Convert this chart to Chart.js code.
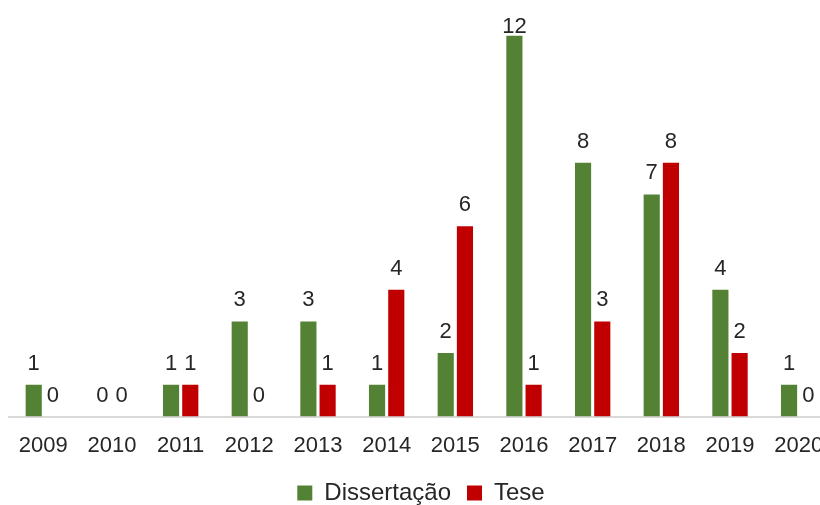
<!DOCTYPE html>
<html>
<head>
<meta charset="utf-8">
<script src="https://cdn.jsdelivr.net/npm/chart.js@4.4.1/dist/chart.umd.min.js"></script>
<style>
  html, body { margin: 0; padding: 0; background: #fff; overflow: hidden; }
  #wrap { width: 840px; height: 505px; }
</style>
</head>
<body>
<div id="wrap"><canvas id="bar-chart"></canvas></div>
<script>
// Data
var years = ["2009", "2010", "2011", "2012", "2013", "2014", "2015", "2016", "2017", "2018", "2019", "2020"];
var dissertacao = [1, 0, 1, 3, 3, 1, 2, 12, 8, 7, 4, 1];
var tese = [0, 0, 1, 0, 1, 4, 6, 1, 3, 8, 2, 0];

var textColor = "#262626";
var fontFamily = "'Liberation Sans', Arial, sans-serif";

// Draw the value above each bar
var valueLabels = {
  id: "valueLabels",
  afterDatasetsDraw: function (chart) {
    var ctx = chart.ctx;
    ctx.save();
    ctx.font = "22px " + fontFamily;
    ctx.fillStyle = textColor;
    ctx.textAlign = "center";
    ctx.textBaseline = "alphabetic";
    chart.data.datasets.forEach(function (ds, i) {
      chart.getDatasetMeta(i).data.forEach(function (bar, j) {
        var y = Math.max(bar.y - 15, 33);
        ctx.fillText(String(ds.data[j]), bar.x, y);
      });
    });
    ctx.restore();
  },
};

var canvas = document.getElementById("bar-chart");

var chart = new Chart(canvas, {
  type: "bar",
  data: {
    labels: years,
    datasets: [
      {
        label: "Dissertação",
        data: dissertacao,
        backgroundColor: "#548235",
        categoryPercentage: 0.56,
        barPercentage: 0.84,
      },
      {
        label: "Tese",
        data: tese,
        backgroundColor: "#c00000",
        categoryPercentage: 0.56,
        barPercentage: 0.84,
      },
    ],
  },
  options: {
    responsive: true,
    maintainAspectRatio: false,
    animation: false,
    layout: {
      padding: { top: 4, left: 9, right: 7, bottom: -10 },
    },
    plugins: {
      legend: {
        position: "bottom",
        labels: {
          color: textColor,
          font: { size: 24, family: fontFamily },
          boxWidth: 15,
          boxHeight: 15,
          padding: 16,
        },
      },
      tooltip: { enabled: false },
    },
    scales: {
      x: {
        grid: { display: false },
        border: { color: "#d9d9d9", width: 2 },
        ticks: {
          color: textColor,
          font: { size: 22, family: fontFamily },
          padding: 8,
          maxRotation: 0,
          autoSkip: false,
        },
        afterFit: function (scale) {
          scale.height -= 2;
        },
      },
      y: {
        display: false,
        min: 0,
        max: 13,
      },
    },
  },
  plugins: [valueLabels],
});
</script>
</body>
</html>
